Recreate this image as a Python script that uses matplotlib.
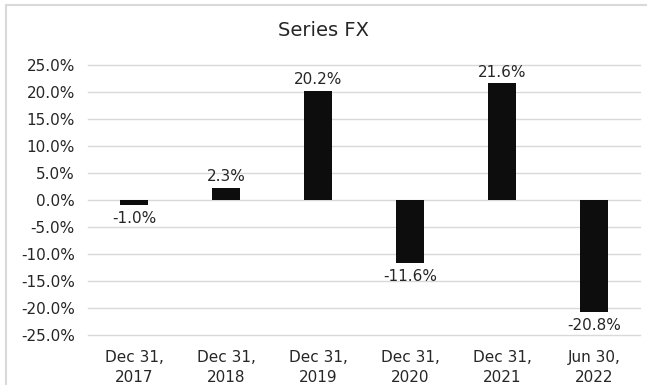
import matplotlib.pyplot as plt
from matplotlib.patches import Rectangle
from matplotlib.ticker import FuncFormatter

categories = ["Dec 31,\n2017", "Dec 31,\n2018", "Dec 31,\n2019", "Dec 31,\n2020", "Dec 31,\n2021", "Jun 30,\n2022"]
values = [-1.0, 2.3, 20.2, -11.6, 21.6, -20.8]
yticks = [-25, -20, -15, -10, -5, 0, 5, 10, 15, 20, 25]

plt.rcParams['font.family'] = ['DejaVu Sans']
fig = plt.figure(figsize=(6.47, 3.85), dpi=100)
W, H = 647, 385
ax = fig.add_axes([88 / W, 1 - 335 / H, 552 / W, 270 / H])

text_color = "#262626"
x = range(len(categories))
ax.bar(x, values, width=0.30, color="#0d0d0d", zorder=3)
ax.set_xlim(-0.5, len(categories) - 0.5)
ax.set_ylim(-25, 25)
ax.set_yticks(yticks)
ax.yaxis.set_major_formatter(FuncFormatter(lambda v, p: f"{v:.1f}%"))
ax.set_xticks(list(x))
ax.set_xticklabels(categories, linespacing=1.45)
ax.grid(axis="y", color="#d9d9d9", linewidth=1, zorder=0)
for gl in ax.get_ygridlines():
    gl.set_clip_on(False)
for s in ax.spines.values():
    s.set_visible(False)
ax.tick_params(length=0, labelsize=11, colors=text_color)
ax.tick_params(axis="y", pad=9.5)
ax.tick_params(axis="x", pad=10.5)

for xi, v in zip(x, values):
    off = 0.7 if v >= 0 else -1.1
    ax.text(xi, v + off, f"{v:.1f}%", ha="center", va="bottom" if v >= 0 else "top",
            fontsize=11, color=text_color, zorder=4)

fig.text(324 / W, 1 - 30 / H, "Series FX", ha="center", va="center", fontsize=14, color=text_color)
fig.patches.append(Rectangle((6 / W, -0.1), (W - 4) / W, 1 - 5 / H + 0.1, transform=fig.transFigure,
                             fill=False, edgecolor="#d9d9d9", linewidth=1.5))

fig.savefig("out.png", dpi=100)
